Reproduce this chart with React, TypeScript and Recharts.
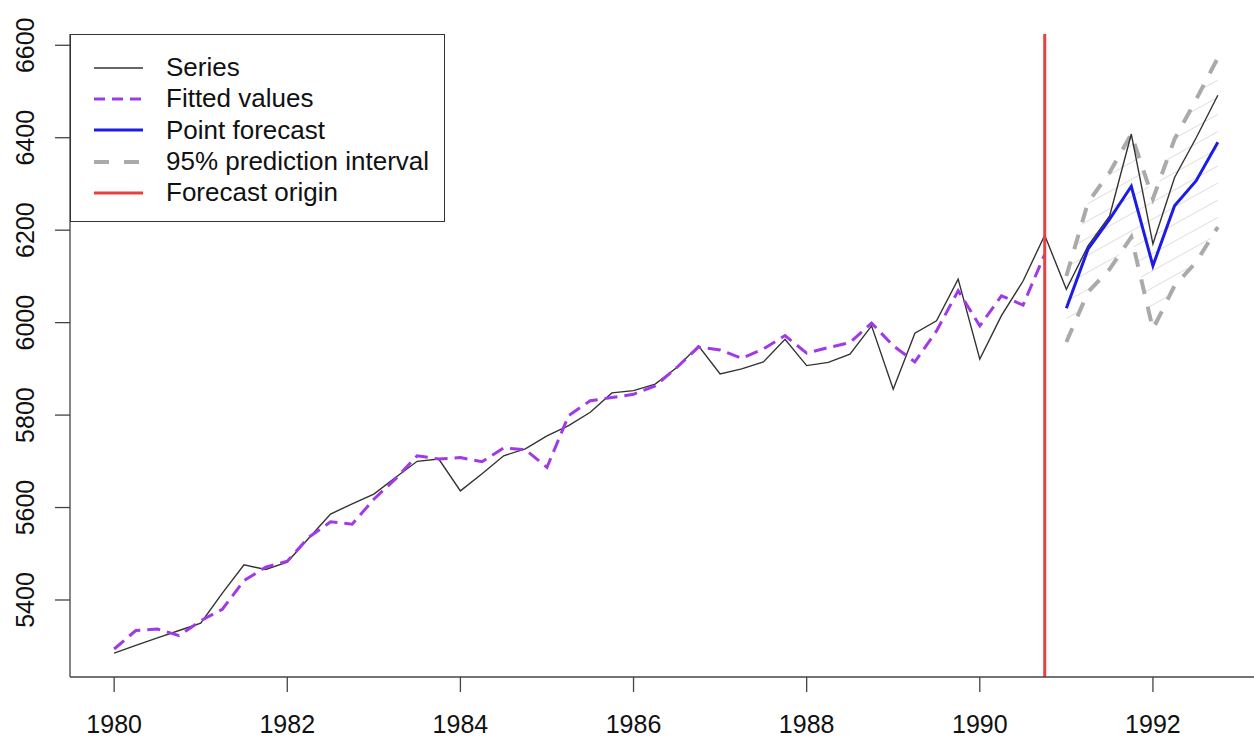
import React from 'react'
import {
  ComposedChart,
  Line,
  Area,
  XAxis,
  YAxis,
  ReferenceLine,
  ReferenceArea,
} from 'recharts'

// quarterly series, 1980 Q1 .. 1992 Q4
const startYear = 1980
const frequency = 4

const series = [
  5285, 5302, 5318, 5334,
  5350, 5415, 5476, 5466,
  5482, 5534, 5586, 5608,
  5629, 5665, 5700, 5705,
  5636, 5673, 5712, 5727,
  5755, 5777, 5806, 5848,
  5853, 5867, 5903, 5950,
  5889, 5900, 5915, 5964,
  5907, 5914, 5932, 5993,
  5856, 5977, 6004, 6094,
  5921, 6015, 6090, 6189,
  6072, 6166, 6231, 6408,
  6170, 6314, 6400, 6492,
]

// in-sample fitted values, 1980 Q1 .. 1990 Q4
const fitted = [
  5294, 5334, 5337, 5323,
  5355, 5380, 5442, 5471,
  5484, 5536, 5569, 5564,
  5618, 5662, 5712, 5705,
  5708, 5699, 5729, 5725,
  5687, 5799, 5831, 5838,
  5845, 5863, 5903, 5947,
  5941, 5923, 5943, 5972,
  5934, 5946, 5957, 5999,
  5950, 5915, 5982, 6069,
  5993, 6058, 6038, 6148,
]

// forecasts, 1991 Q1 .. 1992 Q4
const pointForecast = [6031, 6159, 6224, 6295, 6123, 6253, 6307, 6390]
const upper95 = [6101, 6260, 6325, 6408, 6268, 6397, 6483, 6573]
const lower95 = [5958, 6066, 6116, 6185, 5986, 6080, 6131, 6207]

const xTicks = [1980, 1982, 1984, 1986, 1988, 1990, 1992]
const yTicks = [5400, 5600, 5800, 6000, 6200, 6400, 6600]
const forecastOrigin = 1990.75

const xDomain: [number, number] = [1979.49, 1993.26]
const yDomain: [number, number] = [5233.4, 6624.4]

const legendItems = [
  { label: 'Series', color: '#333333', width: 1.4, dash: undefined },
  { label: 'Fitted values', color: '#a03ae8', width: 3, dash: '11 7' },
  { label: 'Point forecast', color: '#1c1ce6', width: 3, dash: undefined },
  { label: '95% prediction interval', color: '#aaaaaa', width: 4, dash: '15 15' },
  { label: 'Forecast origin', color: '#e8403f', width: 3, dash: undefined },
]

const fcStart = fitted.length

const data = series.map((v, i) => {
  const k = i - fcStart
  const inFc = k >= 0 && k < pointForecast.length
  return {
    t: startYear + i / frequency,
    series: v,
    fitted: i < fitted.length ? fitted[i] : null,
    forecast: inFc ? pointForecast[k] : null,
    upper: inFc ? upper95[k] : null,
    lower: inFc ? lower95[k] : null,
    band: inFc ? [lower95[k], upper95[k]] : null,
  }
})

const font = '"Liberation Sans", Arial, Helvetica, sans-serif'

function YTick({ y, payload }: any) {
  return (
    <text
      x={25}
      y={y}
      transform={`rotate(-90 25 ${y})`}
      textAnchor="middle"
      dominantBaseline="central"
      fontSize={25}
      fill="#111"
      fontFamily={font}
    >
      {payload.value}
    </text>
  )
}

function LegendBox() {
  return (
    <div
      style={{
        position: 'absolute',
        left: 70,
        top: 34,
        width: 375,
        height: 188,
        boxSizing: 'border-box',
        border: '1.3px solid #333',
        background: '#fff',
        fontFamily: font,
        fontSize: 26,
        color: '#111',
        paddingTop: 17,
      }}
    >
      {legendItems.map((it) => (
        <div key={it.label} style={{ display: 'flex', alignItems: 'center', height: 31.3 }}>
          <svg width={95} height={20} style={{ flex: 'none' }}>
            <line
              x1={23}
              x2={72}
              y1={10}
              y2={10}
              stroke={it.color}
              strokeWidth={it.width}
              strokeDasharray={it.dash}
            />
          </svg>
          <span style={{ lineHeight: '31px', whiteSpace: 'nowrap' }}>{it.label}</span>
        </div>
      ))}
    </div>
  )
}

export default function App() {
  return (
    <div
      style={{
        position: 'absolute',
        left: 0,
        top: 0,
        width: 1254,
        height: 738,
        overflow: 'hidden',
        background: '#fff',
      }}
    >
      <ComposedChart
        width={1300}
        height={738}
        data={data}
        margin={{ top: 34, right: 38, bottom: 0, left: 0 }}
      >
        <defs>
          <pattern
            id="hatch"
            width="15"
            height="15"
            patternUnits="userSpaceOnUse"
            patternTransform="rotate(-29)"
          >
            <line x1="0" y1="0" x2="15" y2="0" stroke="#cfcfcf" strokeWidth="1.3" />
          </pattern>
        </defs>

        <XAxis
          dataKey="t"
          type="number"
          domain={xDomain}
          ticks={xTicks}
          allowDataOverflow
          height={61}
          tickSize={15}
          tickMargin={23}
          axisLine={{ stroke: '#444', strokeWidth: 1.5 }}
          tickLine={{ stroke: '#444', strokeWidth: 1.3 }}
          tick={{ fontSize: 25, fill: '#111', fontFamily: font }}
        />
        <YAxis
          type="number"
          domain={yDomain}
          ticks={yTicks}
          allowDataOverflow
          width={70}
          tickSize={15}
          axisLine={{ stroke: '#444', strokeWidth: 1.3 }}
          tickLine={{ stroke: '#444', strokeWidth: 1.3 }}
          tick={<YTick />}
        />

        <ReferenceArea fill="none" stroke="#333" strokeWidth={1.3} />

        <Area
          type="linear"
          dataKey="band"
          stroke="none"
          fill="url(#hatch)"
          fillOpacity={1}
          connectNulls={false}
          isAnimationActive={false}
          activeDot={false}
        />

        <Line type="linear" dataKey="upper" stroke="#aaaaaa" strokeWidth={4} strokeDasharray="15 13" dot={false} isAnimationActive={false} />
        <Line type="linear" dataKey="lower" stroke="#aaaaaa" strokeWidth={4} strokeDasharray="15 13" dot={false} isAnimationActive={false} />

        <Line type="linear" dataKey="series" stroke="#333333" strokeWidth={1.4} dot={false} isAnimationActive={false} />
        <Line type="linear" dataKey="fitted" stroke="#a03ae8" strokeWidth={3} strokeDasharray="13 7" dot={false} isAnimationActive={false} />
        <Line type="linear" dataKey="forecast" stroke="#1c1ce6" strokeWidth={3} dot={false} isAnimationActive={false} />

        <ReferenceLine x={forecastOrigin} stroke="#e8403f" strokeWidth={3} />
      </ComposedChart>
      <LegendBox />
    </div>
  )
}
